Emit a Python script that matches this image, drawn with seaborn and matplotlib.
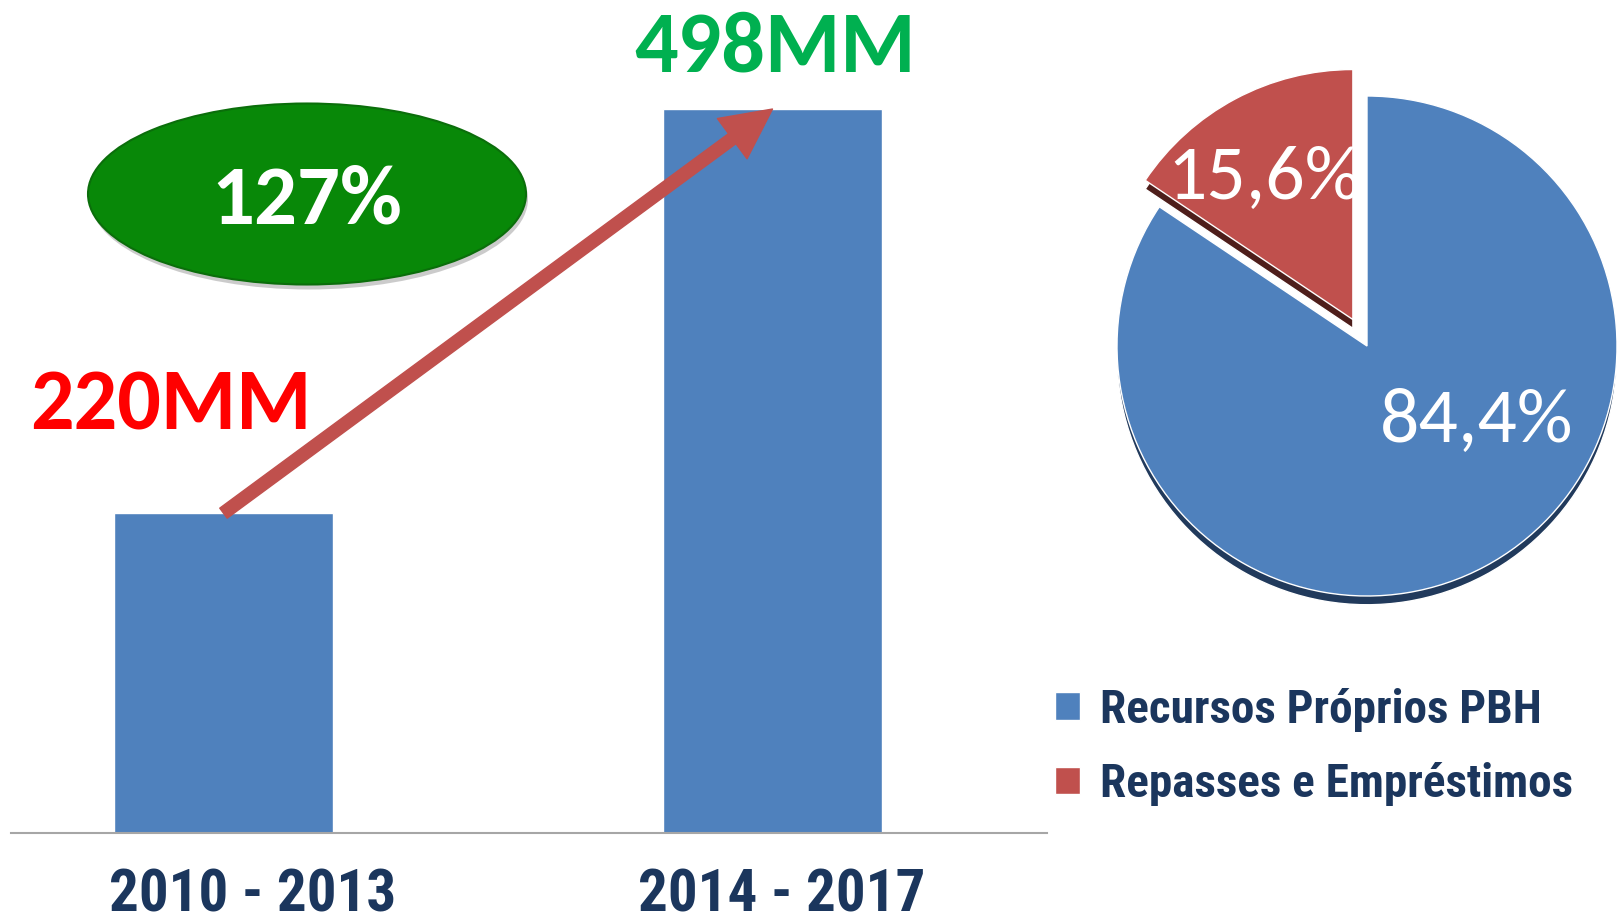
import numpy as np
import pandas as pd
import matplotlib
matplotlib.use("Agg")
import matplotlib.pyplot as plt
from matplotlib.patches import Ellipse
from matplotlib import transforms
import seaborn as sns

# dados
periods = ["2010 - 2013", "2014 - 2017"]
invest = [220, 498]          # milhoes
growth_label = "127%"
sources = ["Recursos Próprios PBH", "Repasses e Empréstimos"]
shares = [84.4, 15.6]
share_labels = ["84,4%", "15,6%"]

BLUE = "#4F81BD"
RED = "#C0504D"
NAVY = "#1B365D"
NARROW = ["Roboto Condensed", "DejaVu Sans"]

sns.set_style("white")
plt.rcParams["font.family"] = ["Carlito", "DejaVu Sans"]

W, H = 1618, 918
fig = plt.figure(figsize=(W / 100, H / 100), dpi=100)

# --- barras ---
ax = fig.add_axes([11 / W, 85 / H, (1047 - 11) / W, 833 / H])
df = pd.DataFrame({"periodo": periods, "valor": invest})
sns.barplot(data=df, x="periodo", y="valor", color=BLUE, saturation=1,
            width=0.4, ax=ax)
ax.set_xlim(-0.387, 1.5)
ax.set_ylim(0, 573)
ax.set_xlabel("")
ax.set_ylabel("")
ax.set_yticks([])
ax.set_xticks(range(len(periods)))
ax.set_xticklabels(periods, fontsize=42.5, fontweight="bold", color=NAVY,
                   family=NARROW)
ax.tick_params(axis="x", which="major", length=0, pad=25)
ax.set_xticks([0.5, 1.5], minor=True)
ax.tick_params(axis="x", which="minor", length=11, width=1.2,
               color="#A6A6A6", direction="out")
# os rotulos do original ficam um pouco a direita das barras
label_shift = [0.29, 0.09]
for lab, dx in zip(ax.get_xticklabels(), label_shift):
    lab.set_transform(lab.get_transform() +
                      transforms.ScaledTranslation(dx, 0, fig.dpi_scale_trans))
sns.despine(ax=ax, left=True)
ax.spines["bottom"].set_color("#A6A6A6")
ax.spines["bottom"].set_linewidth(1.5)

value_colors = ["#FF0000", "#00B050"]
value_offsets = [(-38, 60), (2, 27)]
for i, v in enumerate(invest):
    ax.annotate(f"{v}MM", xy=(i, v), xytext=value_offsets[i],
                textcoords="offset points", ha="center", va="baseline",
                fontsize=62, fontweight="bold", color=value_colors[i])

ax.annotate("", xy=(1, invest[1]), xytext=(0, invest[0]),
            arrowprops=dict(arrowstyle="simple,head_length=1.8,head_width=1.8,tail_width=0.45",
                            mutation_scale=20, color=RED, shrinkA=0, shrinkB=0))

# elipse verde
fig.add_artist(Ellipse((309 / W, 1 - 199 / H), 438 / W, 181 / H,
                       transform=fig.transFigure, color="#555555", alpha=0.3, lw=0))
fig.add_artist(Ellipse((307 / W, 1 - 194 / H), 438 / W, 181 / H,
                       transform=fig.transFigure, facecolor="#088808",
                       edgecolor="#0B6E0B", lw=1.5))
fig.text(307 / W, 1 - 224 / H, growth_label, ha="center", va="baseline",
         fontsize=61, fontweight="bold", color="white")

# --- pizza ---
pax = fig.add_axes([(1367 - 300) / W, (H - 346 - 300) / H, 600 / W, 600 / H])
pax.pie(shares, colors=["#213A5C", "#4E1E1B"], startangle=90, counterclock=False,
        explode=[0, 0.12], center=(0, -0.035))
wedges, _ = pax.pie(shares, colors=[BLUE, RED], startangle=90, counterclock=False,
                    explode=[0, 0.12])
pax.set_xlim(-1.2, 1.2)
pax.set_ylim(-1.2, 1.2)
pax.set_aspect("equal")
label_pos = [(0.44, -0.30), (-0.41, 0.67)]
for (x, y), lab in zip(label_pos, share_labels):
    pax.text(x, y, lab, ha="center", va="center", fontsize=56, color="white")

fig.legend(handles=wedges, labels=sources, loc="upper left",
           bbox_to_anchor=(1055 / W, 1 - 688 / H), frameon=False,
           prop=dict(family=NARROW, weight="bold", size=34), labelcolor=NAVY,
           handlelength=0.53, handleheight=0.53, handletextpad=0.42,
           labelspacing=0.64, borderpad=0, borderaxespad=0)

fig.savefig("out.png", dpi=100, facecolor="white")
